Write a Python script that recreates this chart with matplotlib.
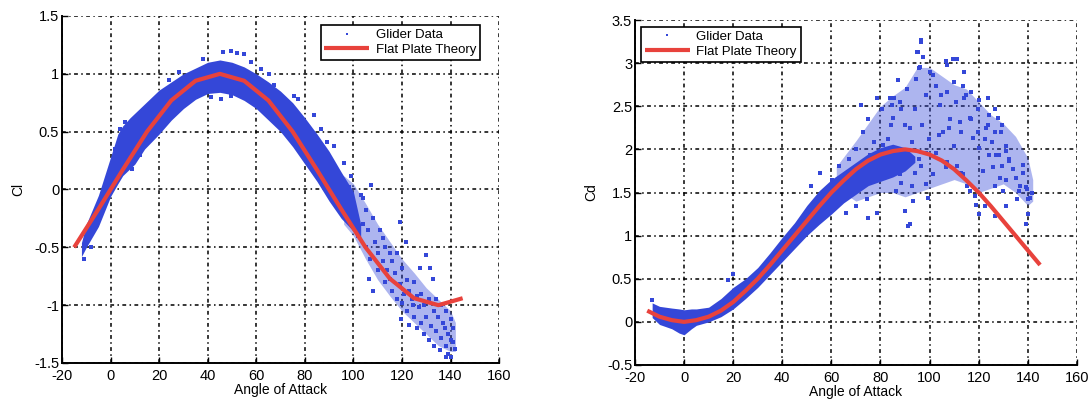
import matplotlib
matplotlib.use("Agg")
import matplotlib.pyplot as plt
from matplotlib.ticker import FuncFormatter, MultipleLocator

plt.rcParams["font.family"] = ["Liberation Sans", "DejaVu Sans"]

# ---- flat plate theory ----
cl_theory_aoa = [-15, -5, 5, 15, 25, 35, 45, 55, 65, 75, 85, 95, 105, 115, 125, 135, 145]
cl_theory = [-0.50, -0.17, 0.17, 0.50, 0.77, 0.94, 1.00, 0.94, 0.77, 0.50, 0.17,
             -0.17, -0.50, -0.77, -0.94, -1.00, -0.94]

cd_theory_aoa = [-15, -10, -5, 0, 5, 10, 15, 20, 25, 30, 35, 40, 45, 50, 55, 60, 65,
                 70, 75, 80, 85, 90, 95, 100, 105, 110, 115, 120, 125, 130, 135, 140, 145]
cd_theory = [0.13, 0.06, 0.02, 0.00, 0.02, 0.06, 0.13, 0.23, 0.36, 0.50, 0.66, 0.83,
             1.00, 1.17, 1.34, 1.50, 1.64, 1.77, 1.87, 1.94, 1.98, 2.00, 1.98, 1.94,
             1.87, 1.77, 1.64, 1.50, 1.34, 1.17, 1.00, 0.83, 0.66]

# ---- glider data: dense core of the point cloud (lower / upper edge) ----
cl_core_aoa = [-12, -10, -5, 0, 3, 5, 8, 10, 14, 20, 25, 30, 35, 40, 45, 50, 55, 60,
               65, 70, 75, 80, 85, 90, 95, 100, 103]
cl_core_lo = [-0.58, -0.50, -0.32, -0.06, 0.05, 0.12, 0.18, 0.22, 0.35, 0.48, 0.60,
              0.70, 0.78, 0.83, 0.84, 0.82, 0.77, 0.70, 0.60, 0.50, 0.37, 0.22, 0.07,
              -0.10, -0.25, -0.36, -0.42]
cl_core_hi = [-0.46, -0.30, -0.05, 0.28, 0.48, 0.55, 0.62, 0.66, 0.74, 0.86, 0.93,
              1.00, 1.05, 1.10, 1.12, 1.10, 1.06, 1.00, 0.93, 0.85, 0.75, 0.62, 0.48,
              0.33, 0.15, -0.02, -0.30]

# thinner part of the cloud
cl_thin_aoa = [96, 100, 105, 110, 115, 120, 125, 130, 135, 140, 142]
cl_thin_lo = [-0.30, -0.40, -0.60, -0.78, -0.92, -1.05, -1.15, -1.25, -1.35, -1.40, -1.40]
cl_thin_hi = [0.12, 0.05, -0.12, -0.30, -0.45, -0.60, -0.72, -0.85, -0.95, -1.05, -1.15]

# scattered single points
cl_pts_aoa = [46.2, 49.6, 55, 57.8, 61.9, 65.3, 67.4, 75.6, 77, 83.8, 86.6, 89.3, 92,
              96.2, 98.9, 70.1, 45.5, 49.6, 41.4, 38, 52, 28, 24, -11, -8, 2, 4, 6, 9,
              12, 16,
              96, 97, 98, 99, 100, 101, 102, 103, 103.9, 104, 105, 105, 106, 106.6, 107,
              107.3, 108, 108, 109, 110, 110, 111, 112, 112, 113, 113, 114, 114.9, 115,
              116, 116, 117, 118, 118, 119, 119, 119.7, 120, 120, 121, 121.8, 122, 122,
              123, 123, 124, 124.6, 125, 125, 126, 126, 127, 127.3, 128, 128, 129, 129,
              130, 130, 131, 131.4, 131, 132, 132.8, 133, 133, 134, 134, 135, 135.6,
              136, 136, 137, 137.6, 138, 138.3, 139, 139, 140, 140, 141, 141, 142, 140,
              138]
cl_pts = [1.19, 1.20, 1.17, 1.10, 1.04, 1.00, 0.90, 0.81, 0.78, 0.64, 0.52, 0.41, 0.38,
          0.23, 0.12, 0.72, 0.78, 0.81, 0.80, 1.13, 1.18, 1.02, 0.95, -0.60, -0.50, 0.35,
          0.52, 0.58, 0.18, 0.30, 0.42,
          -0.05, -0.20, 0.02, -0.30, -0.12, -0.25, -0.40, -0.05, -0.07, -0.30, -0.50,
          -0.18, -0.35, -0.77, -0.60, 0.04, -0.88, -0.25, -0.45, -0.55, -0.70, -0.35,
          -0.42, -0.62, -0.80, -0.50, -0.70, -0.77, -0.55, -0.88, -0.62, -0.72, -0.95,
          -0.55, -0.28, -0.82, -1.12, -0.68, -0.98, -0.90, -0.45, -0.78, -1.05, -1.17,
          -0.88, -0.95, -1.00, -0.80, -1.10, -1.20, -0.92, -1.02, -0.68, -1.15, -0.90,
          -1.25, -1.00, -0.57, -1.10, -0.95, -0.68, -1.30, -1.18, -0.77, -1.05, -1.35,
          -1.22, -0.95, -1.10, -1.39, -1.28, -1.00, -1.15, -1.20, -1.35, -1.05, -1.25,
          -1.42, -1.12, -1.30, -1.32, -1.20, -1.38, -1.45, -1.45]

cd_core_aoa = [-13, -10, -5, -2, 0, 3, 5, 10, 15, 20, 25, 30, 35, 40, 45, 50, 55, 60,
               65, 70, 75, 80, 85, 90, 94]
cd_core_lo = [0.05, -0.03, -0.08, -0.13, -0.15, -0.08, -0.04, 0.00, 0.06, 0.15, 0.27,
              0.40, 0.55, 0.70, 0.85, 1.00, 1.13, 1.25, 1.38, 1.48, 1.58, 1.63, 1.68,
              1.75, 1.85]
cd_core_hi = [0.22, 0.18, 0.16, 0.15, 0.14, 0.15, 0.15, 0.17, 0.27, 0.40, 0.50, 0.63,
              0.80, 0.98, 1.15, 1.35, 1.52, 1.65, 1.75, 1.85, 1.95, 2.02, 2.06, 2.02,
              1.92]

cd_thin_aoa = [62, 70, 75, 80, 85, 90, 95, 100, 105, 110, 115, 120, 125, 130, 135, 140, 142]
cd_thin_lo = [1.55, 1.40, 1.45, 1.50, 1.50, 1.45, 1.50, 1.55, 1.60, 1.65, 1.60, 1.50,
              1.55, 1.60, 1.50, 1.35, 1.40]
cd_thin_hi = [1.80, 2.10, 2.30, 2.50, 2.62, 2.72, 2.95, 2.95, 2.85, 2.75, 2.70, 2.55,
              2.40, 2.30, 2.15, 1.90, 1.65]

cd_pts_aoa = [96.6, 95.3, 97.3, 95.9, 100, 94.6, 106.8, 109.5, 114.2, 113.6, 102.7,
              104.7, 110.8, 114.9, 120.3, 124.4, 127.8, 129.2, 123, 131.2, 132.5, 127.1,
              138, 139.3, 140.7, 140, 139.3, 135.3, 136.6, 91.9, 87.8, 83.7, 85.1, 81,
              82.4, 87.8, 86.4, 89.8, 91.9, 93.2, 98.6, 101.4, 99.3, 106.8, 113.6, 116.3,
              119, 120.3, 104, 108.1, 112.2, 116.3, 117.6, 120.3, 124.4, 125.8, 128.5,
              129.8, 121.7, 84.7,
              55.2, 64.4, 65.9, 75, 91.4, 72.2, 75, 78.6, 80.7, 84.3, 82.9, 77.2, 73,
              70.1, 67.3, 63, 60.2, 75.8, 79.3, 84.3, 87.1, 88.5, 92.8, 94.2, 95.6, 92.8,
              89.9, 88.5, 85.7, 90.7, 87.1, 94.2, 98.4, 97, 99.9, 98.4, 96.3, 109.8,
              112.6, 116.9, 119.7, 123.9, 125.4, 128.2, 129.6, 131, 126.8, 122.5, 132.5,
              133.9, 131, 126.8, 138.1, 139.5, 140.2, 141.6, 136.8, 135.4, 131, 126.8,
              122.5, 118.3, 115.4, 112.6, 111.2, 107.1, 102.7, 105.5, 108.4, 104.1,
              107.1, 109.8, 111.2, 107.1, 101.3, 95.6, 96.3, 94.9, 113.9, 116.9, 119.7,
              123.9, 126.8, 129.6, 51.7, 74.4, 70.1, 78.6, 20, 18, -13]
cd_pts = [3.27, 3.13, 3.07, 2.95, 2.90, 2.82, 3.03, 3.05, 2.90, 2.74, 2.74, 2.63, 2.55,
          2.63, 2.57, 2.40, 2.36, 2.20, 2.25, 1.98, 1.86, 1.94, 1.82, 1.56, 1.44, 1.25,
          1.13, 1.67, 1.52, 2.25, 2.55, 2.59, 2.36, 2.05, 1.86, 1.71, 1.52, 1.29, 1.13,
          1.40, 1.60, 1.71, 1.44, 1.79, 1.71, 1.52, 1.36, 1.25, 2.17, 2.25, 2.32, 2.36,
          2.13, 2.02, 1.94, 1.79, 1.67, 1.52, 1.75, 2.51,
          1.73, 1.50, 1.26, 1.21, 1.11, 2.51, 2.35, 2.59, 2.47, 2.28, 2.12, 2.08, 2.20,
          2.00, 1.89, 1.81, 1.65, 1.93, 1.81, 1.73, 1.96, 1.61, 1.58, 1.73, 1.89, 2.08,
          2.28, 2.47, 2.59, 2.70, 2.80, 2.47, 2.63, 2.28, 2.12, 1.96, 1.81, 2.04, 2.20,
          2.35, 2.20, 2.28, 2.08, 1.93, 1.81, 2.04, 2.20, 2.12, 1.89, 1.77, 1.65, 1.58,
          1.73, 1.54, 1.42, 1.50, 1.58, 1.42, 1.34, 1.23, 1.34, 1.46, 1.58, 1.73, 1.81,
          1.85, 1.96, 2.20, 2.35, 2.51, 2.67, 2.78, 3.05, 2.98, 2.86, 2.94, 3.25, 3.13,
          2.59, 2.67, 2.47, 2.59, 2.47, 2.28, 1.58, 1.42, 1.34, 1.26, 0.55, 0.48, 0.25]

BLUE = "#3447d8"
RED = "#e8423c"


def matlab_fmt(v, pos):
    return "%g" % v


def draw(ax, core, thin, pts, theory, ylabel, ylim, legend_loc, legend_anchor):
    ax.fill_between(core[0], core[1], core[2], color=BLUE, lw=0, zorder=2)
    ax.fill_between(thin[0], thin[1], thin[2], color=BLUE, alpha=0.4, lw=0, zorder=2)
    ax.plot(pts[0], pts[1], ls="none", marker="s", ms=2.6, mew=0, color=BLUE,
            zorder=3, label="Glider Data")
    ax.plot(theory[0], theory[1], "-", color=RED, lw=3.0, zorder=4,
            solid_capstyle="butt", label="Flat Plate Theory")

    ax.set_xlim(-20, 160)
    ax.set_ylim(*ylim)
    ax.xaxis.set_major_locator(MultipleLocator(20))
    ax.yaxis.set_major_locator(MultipleLocator(0.5))
    ax.xaxis.set_major_formatter(FuncFormatter(matlab_fmt))
    ax.yaxis.set_major_formatter(FuncFormatter(matlab_fmt))
    ax.tick_params(direction="in", length=4, width=1, labelsize=10.5, pad=2)
    ax.tick_params(axis="x", pad=4)
    ax.grid(True, color="black", lw=1.1, ls=(0, (2.5, 2.2, 1, 2.2)))
    ax.set_axisbelow(True)
    for s in ("top", "right"):
        ax.spines[s].set_visible(False)
    for s in ("left", "bottom"):
        ax.spines[s].set_linewidth(1.4)
    ax.set_xlabel("Angle of Attack", fontsize=10, labelpad=0)
    ax.set_ylabel(ylabel, fontsize=10, labelpad=6)

    leg = ax.legend(loc=legend_loc, bbox_to_anchor=legend_anchor, borderaxespad=0,
                    fontsize=9.5, fancybox=False, framealpha=1, edgecolor="black",
                    handlelength=3.4, markerscale=0.7, borderpad=0.3,
                    labelspacing=0.2, handletextpad=0.5)
    leg.get_frame().set_linewidth(1.2)
    leg.set_zorder(10)


fig = plt.figure(figsize=(10.88, 4), dpi=100)
ax1 = fig.add_axes([0.057, 0.0925, 0.4017, 0.8675])
ax2 = fig.add_axes([0.5836, 0.0875, 0.4062, 0.8625])

draw(ax1, (cl_core_aoa, cl_core_lo, cl_core_hi), (cl_thin_aoa, cl_thin_lo, cl_thin_hi),
     (cl_pts_aoa, cl_pts), (cl_theory_aoa, cl_theory), "Cl", (-1.5, 1.5),
     "upper right", (0.957, 0.974))
draw(ax2, (cd_core_aoa, cd_core_lo, cd_core_hi), (cd_thin_aoa, cd_thin_lo, cd_thin_hi),
     (cd_pts_aoa, cd_pts), (cd_theory_aoa, cd_theory), "Cd", (-0.5, 3.5),
     "upper left", (0.0136, 0.98))

fig.savefig("out.png", dpi=100)
